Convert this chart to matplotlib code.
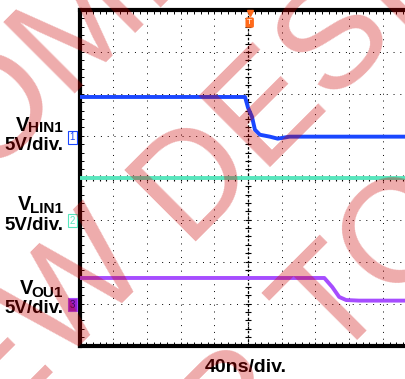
import numpy as np
import matplotlib
matplotlib.use("Agg")
import matplotlib.pyplot as plt
from matplotlib.transforms import blended_transform_factory

W, H = 405, 379

# scope traces, breakpoints: time (ns), volts
t_hin = [-200, -3.5, 0, 4.7, 8.2, 14.1, 25.9, 35.3, 49.4, 70, 200]
v_hin = [4.63, 4.63, 3.36, 2.28, 0.73, 0.13, -0.10, -0.34, -0.10, -0.10, -0.10]
t_lin = [-200, 200]
v_lin = [5.0, 5.0]
t_out = [-200, 90.6, 100, 108.2, 116.5, 131.7, 200]
v_out = [3.05, 3.05, 1.97, 0.79, 0.42, 0.35, 0.35]

# channel ground offsets (div), volts per div
offsets = [1, -1, -3]
vdiv = 5.0
colors = ["#1a47ff", "#58e6bd", "#a64dff"]
names = ["HIN1", "LIN1", "OU1"]

plt.rcParams["font.family"] = ["Liberation Sans", "DejaVu Sans"]

fig = plt.figure(figsize=(W / 100, H / 100), dpi=100, facecolor="white")
ax = fig.add_axes([79.5 / W, 1 - 345.5 / H, 337 / W, 335.5 / H])
ax.set_xlim(-200, 200)
ax.set_ylim(-4, 4)

# grid
ax.set_xticks(np.arange(-200, 201, 40))
ax.set_yticks(np.arange(-4, 5, 1))
ax.set_xticks(np.arange(-200, 201, 8), minor=True)
ax.set_yticks(np.arange(-4, 4.01, 0.2), minor=True)
ax.grid(True, which="major", color="k", lw=0.7, ls=(0, (1, 6)))
ax.tick_params(which="both", direction="in", top=True, bottom=True, left=True, right=False,
               length=3, width=0.7, labelleft=False, labelbottom=False)
for s in ["left", "top", "bottom"]:
    ax.spines[s].set_linewidth(3)
ax.spines["right"].set_visible(False)

# center cross with ticks
ax.axvline(0, color="k", lw=0.9, ls=(0, (2, 1.5)), zorder=1.5)
ax.axhline(0, color="k", lw=0.9, ls=(0, (2, 1.5)), zorder=1.5)
ax.plot(np.zeros(41), np.arange(-4, 4.01, 0.2), ls="none", marker="_", ms=5, mew=0.8, color="k")
ax.plot(np.arange(-200, 201, 8), np.zeros(51), ls="none", marker="|", ms=5, mew=0.8, color="k")

# traces
for t, v, off, c in zip([t_hin, t_lin, t_out], [v_hin, v_lin, v_out], offsets, colors):
    ax.plot(t, off + np.array(v) / vdiv, color=c, lw=2.8, solid_joinstyle="round", zorder=3)

# channel ground markers
tr = blended_transform_factory(ax.transAxes, ax.transData)
for i, (off, c) in enumerate(zip(offsets, colors)):
    fill = "#9b1fd1" if i == 2 else "white"
    tc = "#3a0a55" if i == 2 else c
    ax.text(-0.013, off - 0.03, str(i + 1), transform=tr, ha="right", va="center", fontsize=7,
            color=tc, clip_on=False,
            bbox=dict(boxstyle="square,pad=0.15", fc=fill, ec=c, lw=0.8))

# trigger marker
ax.plot(2, 3.92, marker="v", ms=5, color="#ff6a1a", clip_on=False, zorder=5)
ax.text(2, 3.70, "T", ha="center", va="center", fontsize=6, color="white", zorder=5,
        bbox=dict(boxstyle="round,pad=0.2", fc="#ff6a1a", ec="none"))


def fx(x):
    return x / W


def fy(y):
    return 1 - y / H


# channel labels (V right edge px, V baseline, sub baseline, scale baseline)
label_pos = [(29, 131, 132, 150), (31, 210, 213, 230), (33, 294, 297, 313)]
for name, (vx, vb, sb, db) in zip(names, label_pos):
    fig.text(fx(vx), fy(vb), "V", ha="right", va="baseline", fontsize=14.5, weight="bold")
    fig.text(fx(63), fy(sb), name, ha="right", va="baseline", fontsize=11, weight="bold")
    fig.text(fx(63), fy(db), "5V/div.", ha="right", va="baseline", fontsize=13.5, weight="bold")

fig.text(fx(246), fy(372), "40ns/div.", ha="center", va="baseline", fontsize=14, weight="bold")

# watermark
wm_kw = dict(rotation=45, rotation_mode="anchor", va="baseline", fontsize=105,
             family="Liberation Sans", color=(0.8, 0, 0), alpha=0.33, zorder=10)
fig.text(fx(-235), fy(391), "RECOMMENDED", ha="left", **wm_kw)
fig.text(fx(155), fy(270), "FOR NEW", ha="right", **wm_kw)
fig.text(fx(184), fy(241), "DESIGNS", ha="left", **wm_kw)
fig.text(fx(301), fy(393), "REFER", ha="right", **wm_kw)
fig.text(fx(330), fy(364), "TO", ha="left", **wm_kw)

fig.savefig("out.png", dpi=100)
